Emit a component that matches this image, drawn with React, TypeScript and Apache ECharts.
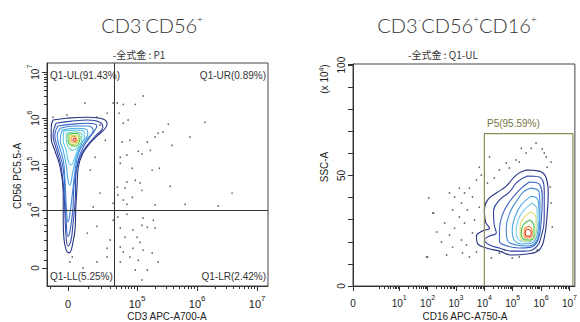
import React, { useEffect, useRef } from "react";
import * as echarts from "echarts";

// ---------- Left plot (CD3 vs CD56, biexponential, decade units) ----------
const LEFT_X_MAJOR = [3.85, 5, 6, 7];
const LEFT_X_MINOR = [3.55, 4.18, 4.4, 4.55, 4.65, 4.73, 4.8, 4.86, 4.91, 4.96, 5.3, 5.48, 5.6, 5.7, 5.78, 5.85, 5.9, 5.95, 6.3, 6.48, 6.6, 6.7, 6.78, 6.85, 6.9, 6.95];
const LEFT_Y_MAJOR = [2.74, 4, 5, 6, 7];
const LEFT_Y_MINOR = [2.91, 3.13, 3.35, 3.54, 3.67, 3.83, 4.3, 4.48, 4.6, 4.7, 4.78, 4.85, 4.9, 4.95, 5.3, 5.48, 5.6, 5.7, 5.78, 5.85, 5.9, 5.95, 6.3, 6.48, 6.6, 6.7, 6.78, 6.85, 6.9, 6.95];
const LEFT_GATE_X = 4.62;
const LEFT_GATE_Y = 4;
const QUADRANT_LABELS = ["Q1-UL(91.43%)", "Q1-UR(0.89%)", "Q1-LL(5.25%)", "Q1-LR(2.42%)"];

const leftContours: number[][][] = [
  [[3.6,5.96],[3.83,6.0],[4.17,6.02],[4.38,6.0],[4.5,5.89],[4.47,5.78],[4.35,5.63],[4.22,5.46],[4.1,5.24],[4.02,4.93],[4.0,4.5],[3.98,4.07],[3.97,3.63],[3.93,3.28],[3.87,3.07],[3.82,3.13],[3.78,3.41],[3.77,3.85],[3.77,4.37],[3.72,4.93],[3.63,5.3],[3.57,5.57],[3.57,5.8]],
  [[3.65,5.89],[3.88,5.93],[4.18,5.96],[4.38,5.91],[4.43,5.8],[4.32,5.63],[4.17,5.41],[4.05,5.15],[3.98,4.76],[3.97,4.22],[3.93,3.67],[3.9,3.35],[3.85,3.22],[3.82,3.39],[3.8,3.89],[3.78,4.43],[3.73,4.98],[3.65,5.35],[3.6,5.63]],
  [[3.68,5.83],[3.92,5.87],[4.18,5.89],[4.33,5.83],[4.25,5.65],[4.12,5.41],[4.02,5.09],[3.95,4.54],[3.93,4.0],[3.88,3.52],[3.85,3.43],[3.82,3.74],[3.8,4.33],[3.77,4.91],[3.68,5.35],[3.63,5.63]],
  [[3.72,5.78],[3.97,5.83],[4.18,5.83],[4.27,5.74],[4.15,5.52],[4.03,5.26],[3.97,4.87],[3.92,4.33],[3.88,3.89],[3.85,3.74],[3.82,4.11],[3.8,4.65],[3.77,5.09],[3.7,5.41],[3.67,5.63]],
  [[3.75,5.74],[3.98,5.78],[4.15,5.76],[4.18,5.65],[4.08,5.46],[4.0,5.2],[3.93,4.83],[3.88,4.54],[3.85,4.65],[3.82,4.98],[3.77,5.3],[3.72,5.52]],
  [[3.78,5.72],[3.98,5.74],[4.12,5.7],[4.12,5.57],[4.03,5.39],[3.97,5.17],[3.9,4.98],[3.85,5.09],[3.82,5.3],[3.77,5.52]],
  [[3.82,5.67],[3.98,5.7],[4.08,5.63],[4.07,5.48],[4.0,5.35],[3.92,5.3],[3.85,5.39],[3.82,5.54]],
  [[3.85,5.65],[3.98,5.67],[4.05,5.59],[4.03,5.46],[3.97,5.39],[3.9,5.41],[3.85,5.52]],
  [[3.88,5.63],[3.98,5.63],[4.03,5.54],[4.0,5.46],[3.93,5.43],[3.88,5.5]],
  [[3.92,5.61],[3.98,5.59],[4.0,5.52],[3.97,5.48],[3.92,5.48],[3.9,5.54]],
  [[3.95,5.57],[3.98,5.54],[3.97,5.5],[3.93,5.52]],
];
const leftLevelColors = ["#25337f", "#3144a4", "#3a62c2", "#3f86d8", "#4aa8e6", "#5cc8e8", "#6fd3bd", "#4fbf50", "#c6da48", "#f0a43a", "#e0402a"];

const leftDots: number[][] = [
  [5.1,6.48],[4.67,6.33],[4.77,6.3],[4.97,6.3],[6.13,5.91],[5.52,5.87],[4.77,5.89],[4.85,5.96],[4.7,6.11],[5.43,5.7],[5.35,5.67],[5.3,5.59],[5.88,5.59],[5.17,5.48],[4.88,5.52],[4.75,5.48],[5.58,5.41],[5.22,5.3],[5.02,5.28],[4.83,5.2],[4.72,5.15],[5.08,5.22],[5.37,4.91],[5.25,4.87],[4.92,4.91],[4.72,5.02],[5.55,4.52],[5.05,4.59],[4.97,4.65],[4.83,4.61],[4.8,4.48],[4.67,4.5],[5.08,4.43],[4.68,4.33],[4.92,4.28],[4.77,4.22],[6.58,4.37],[5.8,4.13],[6.35,4.09],[5.3,4.11],[4.83,4.13],[4.6,4.15],
  [4.68,3.85],[4.83,3.91],[5.1,3.83],[5.27,3.78],[5.08,3.67],[4.72,3.61],[4.93,3.57],[5.17,3.63],[5.3,3.61],[4.8,3.41],[5.0,3.41],[5.05,3.3],[4.72,3.2],[4.93,3.17],[4.77,3.09],[5.1,3.13],[5.25,3.07],[4.88,2.98],[5.02,2.91],[5.35,2.87],[4.72,2.87],[4.97,2.7],[5.17,2.7],[5.08,2.48],
  [4.33,3.65],[4.17,3.5],[4.5,3.17],[4.5,2.98],[4.33,2.87],[4.1,2.74],[3.92,2.98],[3.88,2.87],[4.55,3.35],[4.6,3.78],
  [3.6,6.02],[3.83,6.07],[4.13,6.33],[4.6,6.33],[4.5,6.11],[4.33,6.02],[4.38,5.85],[4.47,5.52],[4.3,5.15],[4.22,4.87],[4.38,4.37],[4.27,4.07],
];

// ---------- Right plot (CD16 vs SSC-A) ----------
const RIGHT_X_MAJOR = [-0.63, 1, 2, 3, 4, 5, 6, 7];
const RIGHT_X_MINOR = [0.3,0.48,0.6,0.7,0.78,0.85,0.9,0.95, 1.3,1.48,1.6,1.7,1.78,1.85,1.9,1.95, 2.3,2.48,2.6,2.7,2.78,2.85,2.9,2.95, 3.3,3.48,3.6,3.7,3.78,3.85,3.9,3.95, 4.3,4.48,4.6,4.7,4.78,4.85,4.9,4.95, 5.3,5.48,5.6,5.7,5.78,5.85,5.9,5.95, 6.3,6.48,6.6,6.7,6.78,6.85,6.9,6.95];
const RIGHT_Y_LABELS = [0, 50, 100];
const P5_GATE: number[][] = [[4, 0], [4, 69], [7.12, 69], [7.12, 0]];
const P5_LABEL = "P5(95.59%)";

const rightContours: number[][][] = [
  [[5.47,52.5],[5.93,52.0],[6.18,48.9],[6.25,42.1],[6.21,32.1],[6.11,21.7],[5.93,16.3],[5.51,14.5],[4.98,14.0],[4.53,15.8],[4.07,17.2],[3.75,19.5],[3.72,22.6],[3.93,24.9],[4.18,26.2],[4.04,29.0],[4.0,34.4],[4.11,38.9],[4.42,42.1],[4.77,45.2],[5.12,50.2]],
  [[5.51,49.8],[5.93,49.3],[6.11,43.4],[6.11,32.1],[6.0,22.2],[5.79,17.2],[5.4,15.8],[4.95,15.8],[4.53,17.2],[4.18,18.6],[4.0,20.8],[4.18,22.6],[4.42,24.0],[4.35,27.6],[4.32,33.5],[4.53,38.9],[4.88,42.5],[5.16,47.1]],
  [[5.58,47.1],[5.93,46.2],[6.04,38.9],[6.0,29.0],[5.89,20.8],[5.65,17.6],[5.23,17.2],[4.81,18.1],[4.53,20.4],[4.53,25.3],[4.63,32.1],[4.88,38.0],[5.23,43.4]],
  [[5.61,44.3],[5.93,42.5],[5.96,34.4],[5.93,25.3],[5.79,19.5],[5.51,18.1],[5.12,18.6],[4.81,20.8],[4.77,26.2],[4.91,33.5],[5.16,38.9],[5.37,42.5]],
  [[5.65,40.7],[5.89,38.9],[5.93,30.8],[5.86,23.1],[5.68,19.5],[5.37,19.0],[5.05,20.8],[4.98,25.3],[5.09,31.7],[5.3,36.7]],
  [[5.68,37.6],[5.86,34.4],[5.86,27.6],[5.75,21.7],[5.51,19.9],[5.23,20.8],[5.12,24.4],[5.19,29.9],[5.4,34.4]],
  [[5.65,33.5],[5.82,30.8],[5.82,24.4],[5.68,20.8],[5.44,20.4],[5.26,22.6],[5.26,27.1],[5.44,31.7]],
  [[5.61,29.9],[5.75,27.1],[5.75,22.6],[5.58,20.8],[5.37,21.3],[5.3,24.4],[5.4,28.1]],
  [[5.58,27.1],[5.68,25.3],[5.68,22.6],[5.54,21.7],[5.4,22.6],[5.4,25.3]],
  [[5.54,25.8],[5.65,24.4],[5.61,22.6],[5.51,22.6],[5.44,24.0],[5.47,25.3]],
];
const rightLevelColors = ["#25337f", "#3144a4", "#3a62c2", "#3f86d8", "#4aa8e6", "#79cfea", "#e2e07a", "#4fbf50", "#f08a30", "#e0402a"];

const rightDots: number[][] = [
  [5.82,64.7],[5.65,62.4],[5.3,62.4],[6.04,62.0],[6.11,60.2],[6.18,58.4],[5.47,60.2],[5.12,57.0],[5.23,56.1],[6.35,56.1],[4.18,58.4],[4.77,55.7],[4.88,53.4],[4.53,52.5],[6.21,53.8],[3.82,53.8],[4.35,48.9],[4.11,46.6],[3.89,50.2],[3.72,48.0],[3.47,44.3],[3.12,44.3],[3.3,42.1],[2.77,42.1],[2.95,40.3],[3.58,40.3],[3.19,37.6],[3.82,35.7],[3.4,34.4],[2.88,34.4],[2.18,33.0],[3.12,31.2],[3.65,29.9],[2.6,28.5],[3.3,28.5],[2.95,26.2],[2.32,24.4],[3.58,24.0],[2.77,23.1],[3.19,20.8],[2.49,19.9],[3.37,18.6],[2.88,17.6],[3.72,15.4],[3.23,14.9],[2.67,14.0],[2.0,13.1],[3.47,13.1],[4.25,12.7],[4.53,14.9],[4.98,12.7],[5.23,13.1],[4.7,16.3],[6.35,37.6],[6.32,44.8],[6.39,26.7],[5.86,16.3],[2.04,39.8],[2.21,33.0],[1.96,13.1],
];

const LABEL_FONT = "Liberation Sans";
const TITLE_FONT = "Lato";
const AXIS_COLOR = "#333";

const close = (pts: number[][]) => [...pts, pts[0]];

const supRich = (size: number) => ({
  b: { fontSize: size, fontFamily: LABEL_FONT, color: "#222", lineHeight: size + 4, verticalAlign: "bottom" },
  s: { fontSize: size - 3, fontFamily: LABEL_FONT, color: "#222", lineHeight: size + 4, verticalAlign: "top" },
});

export default function App() {
  const ref = useRef<HTMLDivElement>(null);
  useEffect(() => {
    if (!ref.current) return;
    const chart = echarts.init(ref.current, null, { renderer: "svg" });

    const series: any[] = [];
    series.push({ type: "scatter", xAxisIndex: 0, yAxisIndex: 0, data: leftDots, symbolSize: 1.7, itemStyle: { color: "#444" }, silent: true });
    series.push({ type: "scatter", xAxisIndex: 2, yAxisIndex: 2, data: rightDots, symbolSize: 1.7, itemStyle: { color: "#444" }, silent: true });
    leftContours.forEach((lvl, i) =>
      series.push({ type: "line", xAxisIndex: 0, yAxisIndex: 0, data: close(lvl), smooth: 0.45, symbol: "none", lineStyle: { color: leftLevelColors[i], width: 1.1 }, silent: true })
    );
    rightContours.forEach((lvl, i) =>
      series.push({ type: "line", xAxisIndex: 2, yAxisIndex: 2, data: close(lvl), smooth: 0.45, symbol: "none", lineStyle: { color: rightLevelColors[i], width: 1.1 }, silent: true })
    );
    series.push({
      type: "line", xAxisIndex: 0, yAxisIndex: 0, data: [], symbol: "none",
      markLine: { symbol: "none", silent: true, label: { show: false }, lineStyle: { color: "#333", width: 1, type: "solid" }, data: [{ xAxis: LEFT_GATE_X }, { yAxis: LEFT_GATE_Y }] },
    });
    series.push({ type: "line", xAxisIndex: 2, yAxisIndex: 2, data: P5_GATE, symbol: "none", lineStyle: { color: "#8c8a55", width: 1.2 }, silent: true });

    const majorAxis = (gridIndex: number, min: number, max: number, ticks: number[], labels: number[], fmt: any, size: number, pos: string, isY: boolean) => ({
      type: "value", gridIndex, min, max, position: pos,
      splitLine: { show: false },
      axisLine: { show: true, onZero: false, lineStyle: { color: AXIS_COLOR, width: 1 } },
      axisTick: { show: true, length: 5, customValues: ticks, lineStyle: { color: AXIS_COLOR } },
      axisLabel: { show: true, customValues: labels, formatter: fmt, rich: supRich(size), margin: isY ? 7 : 8, rotate: isY ? 90 : 0, color: "#222", fontFamily: LABEL_FONT, fontSize: size },
    });
    const minorAxis = (gridIndex: number, min: number, max: number, ticks: number[], pos: string) => ({
      type: "value", gridIndex, min, max, position: pos,
      splitLine: { show: false },
      axisLine: { show: false, onZero: false },
      axisTick: { show: true, length: 3, customValues: ticks, lineStyle: { color: AXIS_COLOR } },
      axisLabel: { show: false },
    });

    const titleRich = { s: { fontSize: 10, fontFamily: TITLE_FONT, fontWeight: 300, verticalAlign: "top", lineHeight: 22, fill: "#333" } };

    const option: any = {
      animation: false,
      backgroundColor: "#fff",
      grid: [
        { left: 47, top: 63, width: 221, height: 223, show: true, borderColor: "#444", borderWidth: 1, backgroundColor: "transparent" },
        { left: 353, top: 64, width: 223, height: 222, show: true, borderColor: "#444", borderWidth: 1, backgroundColor: "transparent" },
      ],
      xAxis: [
        majorAxis(0, 3.5, 7.18, LEFT_X_MAJOR, LEFT_X_MAJOR, (v: number) => (v < 4 ? "{b|0}" : `{b|10}{s|${Math.round(v)}}`), 11, "bottom", false),
        minorAxis(0, 3.5, 7.18, LEFT_X_MINOR, "bottom"),
        majorAxis(1, -0.63, 7.19, RIGHT_X_MAJOR, RIGHT_X_MAJOR, (v: number) => (v < 0.5 ? "{b|0}" : `{b|10}{s|${Math.round(v)}}`), 10, "bottom", false),
        minorAxis(1, -0.63, 7.19, RIGHT_X_MINOR, "bottom"),
      ],
      yAxis: [
        majorAxis(0, 2.35, 7.2, LEFT_Y_MAJOR, LEFT_Y_MAJOR, (v: number) => (v < 3 ? "{b|0}" : `{b|10}{s|${Math.round(v)}}`), 10, "left", true),
        minorAxis(0, 2.35, 7.2, LEFT_Y_MINOR, "left"),
        {
          type: "value", gridIndex: 1, min: 0, max: 100.5, interval: 10, position: "left",
          splitLine: { show: false },
          axisLine: { show: true, onZero: false, lineStyle: { color: AXIS_COLOR } },
          axisTick: { show: true, length: 5, lineStyle: { color: AXIS_COLOR } },
          axisLabel: { show: true, customValues: RIGHT_Y_LABELS, rotate: 90, margin: 7, color: "#222", fontFamily: LABEL_FONT, fontSize: 10 },
        },
        minorAxis(1, 0, 100.5, [], "left"),
      ],
      series,
      graphic: [
        { type: "text", x: 152, y: 25, style: { text: "CD3{s|-}CD56{s|+}", align: "center", verticalAlign: "middle", fontFamily: TITLE_FONT, fontWeight: 300, fontSize: 20, fill: "#333", rich: titleRich, lineHeight: 22 } },
        { type: "text", x: 457, y: 25, style: { text: "CD3{s|-}CD56{s|+}CD16{s|+}", align: "center", verticalAlign: "middle", fontFamily: TITLE_FONT, fontWeight: 300, fontSize: 20, fill: "#333", rich: titleRich, lineHeight: 22 } },
        { type: "text", x: 139, y: 54, style: { text: "-全式金 : P1", align: "center", verticalAlign: "middle", fontFamily: "Noto Sans CJK SC", fontSize: 10, fill: "#333" } },
        { type: "text", x: 443, y: 54, style: { text: "-全式金 : Q1-UL", align: "center", verticalAlign: "middle", fontFamily: "Noto Sans CJK SC", fontSize: 10, fill: "#333" } },
        { type: "text", x: 50, y: 75, style: { text: QUADRANT_LABELS[0], align: "left", verticalAlign: "middle", fontFamily: LABEL_FONT, fontSize: 10, fill: "#333" } },
        { type: "text", x: 266, y: 75, style: { text: QUADRANT_LABELS[1], align: "right", verticalAlign: "middle", fontFamily: LABEL_FONT, fontSize: 10, fill: "#333" } },
        { type: "text", x: 50, y: 276, style: { text: QUADRANT_LABELS[2], align: "left", verticalAlign: "middle", fontFamily: LABEL_FONT, fontSize: 10, fill: "#333" } },
        { type: "text", x: 266, y: 276, style: { text: QUADRANT_LABELS[3], align: "right", verticalAlign: "middle", fontFamily: LABEL_FONT, fontSize: 10, fill: "#333" } },
        { type: "text", x: 487, y: 123, style: { text: P5_LABEL, align: "left", verticalAlign: "middle", fontFamily: LABEL_FONT, fontSize: 10, fill: "#77763f" } },
        { type: "text", x: 167, y: 316, style: { text: "CD3 APC-A700-A", align: "center", verticalAlign: "middle", fontFamily: LABEL_FONT, fontSize: 10, fill: "#222" } },
        { type: "text", x: 465, y: 316, style: { text: "CD16 APC-A750-A", align: "center", verticalAlign: "middle", fontFamily: LABEL_FONT, fontSize: 10, fill: "#222" } },
        { type: "text", x: 17, y: 176, rotation: Math.PI / 2, style: { text: "CD56 PC5.5-A", align: "center", verticalAlign: "middle", fontFamily: LABEL_FONT, fontSize: 10, fill: "#222" } },
        { type: "text", x: 324, y: 167, rotation: Math.PI / 2, style: { text: "SSC-A", align: "center", verticalAlign: "middle", fontFamily: LABEL_FONT, fontSize: 10, fill: "#222" } },
        { type: "text", x: 324, y: 79, rotation: Math.PI / 2, style: { text: "(x 10{s|4})", align: "center", verticalAlign: "middle", fontFamily: LABEL_FONT, fontSize: 10, fill: "#222", rich: { s: { fontSize: 7, fontFamily: LABEL_FONT, verticalAlign: "top", lineHeight: 13, fill: "#222" } }, lineHeight: 13 } },
      ],
    };
    chart.setOption(option);
    return () => chart.dispose();
  }, []);

  return <div ref={ref} style={{ width: 580, height: 322, position: "absolute", left: 0, top: 0, background: "#fff" }} />;
}
